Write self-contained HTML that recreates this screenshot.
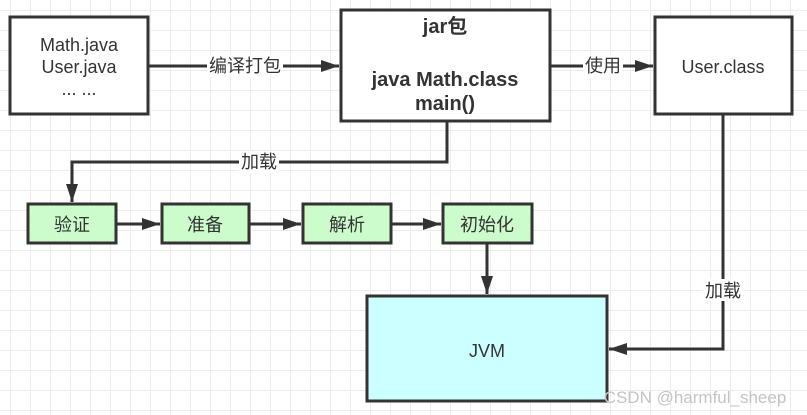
<!DOCTYPE html>
<html><head><meta charset="utf-8"><style>
body{margin:0;width:807px;height:415px;overflow:hidden;background:#fff;
background-image:linear-gradient(#ececec 1px,transparent 1px),linear-gradient(90deg,#ececec 1px,transparent 1px);
background-size:20px 20px;background-position:-10px -10px;font-family:"Liberation Sans","Noto Sans CJK SC",sans-serif;}
</style></head><body>
<svg width="807" height="415" style="position:absolute;left:0;top:0" font-family="Liberation Sans, Noto Sans CJK SC, sans-serif">
<defs><marker id="b" markerWidth="20" markerHeight="12" refX="18" refY="6" orient="auto" markerUnits="userSpaceOnUse"><path d="M0,0 L18,6 L0,12 z" fill="#333"/></marker></defs>
<g stroke="#333" stroke-width="3" fill="none">
<rect x="10" y="17" width="138" height="97" fill="#fff"/>
<rect x="341" y="10" width="209" height="111" fill="#fff"/>
<rect x="655" y="17" width="137" height="97" fill="#fff"/>
<rect x="28" y="204" width="88" height="39" fill="#ccfccc"/>
<rect x="162" y="204" width="87" height="39" fill="#ccfccc"/>
<rect x="303" y="204" width="88" height="39" fill="#ccfccc"/>
<rect x="443" y="204" width="89" height="39" fill="#ccfccc"/>
<rect x="367" y="296" width="240" height="105" fill="#ccffff"/>
<path d="M148 66 H339" marker-end="url(#b)"/>
<path d="M550 66 H653" marker-end="url(#b)"/>
<path d="M447 121 V162 H72 V202" marker-end="url(#b)"/>
<path d="M116 224 H160" marker-end="url(#b)"/>
<path d="M249 224 H301" marker-end="url(#b)"/>
<path d="M391 224 H441" marker-end="url(#b)"/>
<path d="M487 243 V294" marker-end="url(#b)"/>
<path d="M723 114 V349 H609" marker-end="url(#b)"/>
</g>
<g fill="#333" font-size="18" text-anchor="middle">
<rect x="207" y="55" width="76" height="22" fill="#fff"/>
<text x="245" y="72">编译打包</text>
<rect x="583" y="55" width="40" height="22" fill="#fff"/>
<text x="603" y="72">使用</text>
<rect x="239" y="151" width="40" height="22" fill="#fff"/>
<text x="259" y="168">加载</text>
<rect x="703" y="279" width="40" height="22" fill="#fff"/>
<text x="723" y="297">加载</text>
<text x="79" y="51">Math.java</text>
<text x="79" y="73">User.java</text>
<text x="79" y="95">... ...</text>
<g font-weight="bold" font-size="20"><text x="445" y="33">jar包</text>
<text x="445" y="86">java Math.class</text><text x="445" y="110">main()</text></g>
<text x="723" y="73">User.class</text>
<text x="72" y="231">验证</text><text x="205" y="231">准备</text>
<text x="347" y="231">解析</text><text x="487" y="231">初始化</text>
<text x="487" y="357">JVM</text>
<text x="695" y="403" fill="#c4c4c4" font-size="17">CSDN @harmful_sheep</text>
</g></svg>
</body></html>
